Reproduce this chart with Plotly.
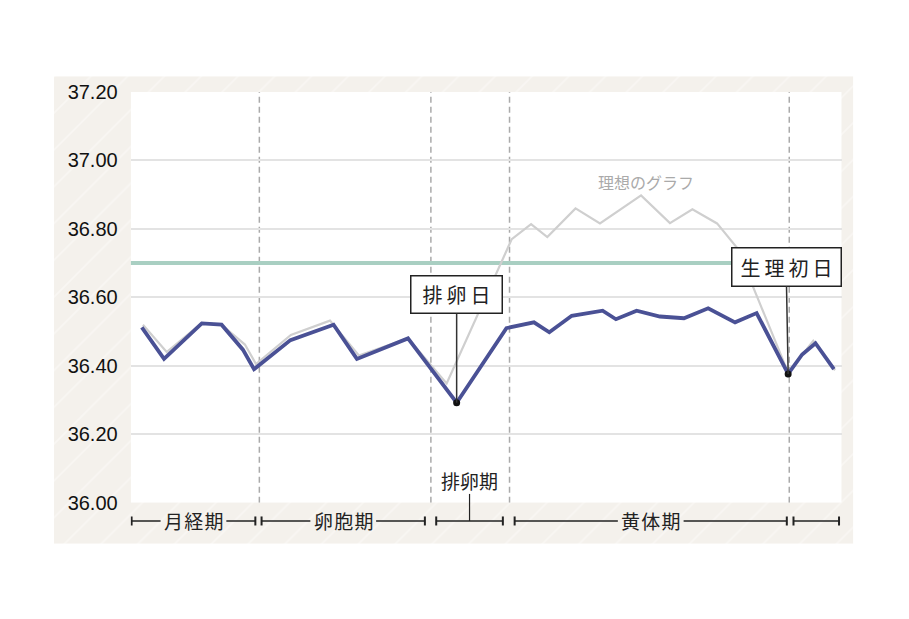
import plotly.graph_objects as go

# ---------------- data ----------------
BLUE_DAY = [0.50, 1.50, 3.20, 4.09, 5.05, 5.55, 7.19, 9.13, 10.18, 12.48, 14.67,
            16.91, 18.15, 18.84, 19.85, 21.24, 21.84, 22.77, 23.82, 24.90, 25.99,
            27.20, 28.17, 29.59, 30.22, 30.82, 31.65]
BLUE_TEMP = [36.512, 36.420, 36.524, 36.520, 36.447, 36.390, 36.475, 36.520, 36.420,
             36.480, 36.292, 36.510, 36.527, 36.498, 36.546, 36.561, 36.536, 36.561,
             36.544, 36.539, 36.568, 36.527, 36.554, 36.376, 36.433, 36.466, 36.390]

IDEAL_DAY = [0.55, 1.62, 3.20, 4.09, 5.14, 5.64, 7.21, 8.97, 10.27, 12.48, 14.22,
             17.15, 18.02, 18.75, 20.02, 21.12, 22.97, 24.27, 25.28, 26.39, 27.29,
             29.59, 30.72, 31.70]
IDEAL_TEMP = [36.520, 36.440, 36.525, 36.520, 36.462, 36.405, 36.490, 36.532, 36.430,
              36.480, 36.348, 36.770, 36.814, 36.776, 36.860, 36.816, 36.898, 36.817,
              36.857, 36.816, 36.745, 36.380, 36.473, 36.387]

THRESHOLD = 36.70
PHASE_DIVIDERS = [5.79, 13.51, 17.05, 29.64]
OVULATION_IDX = 10
PERIOD_IDX = 23

Y_TICKS = [36.0, 36.2, 36.4, 36.6, 36.8, 37.0, 37.2]
Y_TICK_TEXT = ["%.2f" % v for v in Y_TICKS]
X_RANGE = [0, 32]
Y_RANGE = [36.0, 37.2]

PHASE_NAMES = ["月\u200a経\u200a期", "卵\u200a胞\u200a期", "排卵期", "黄\u200a体\u200a期", ""]
PHASE_START = [0.04, 5.89, 13.75, 17.28, 29.83]
PHASE_END = [5.61, 13.24, 16.75, 29.53, 31.88]
LABEL_ABOVE = [False, False, True, False, False]

IDEAL_LABEL = "理想のグラフ"
IDEAL_LABEL_POS = (23.19, 36.936)
OVULATION_LABEL = "排\u2009卵\u2009日"
PERIOD_LABEL = "生\u2009理\u2009初\u2009日"

# ---------------- layout geometry (pixels of the target picture) ----------------
W, H = 909, 619
PL, PR, PT, PB = 130.7, 841.7, 91.7, 501.7      # white plot area
BL, BR, BT, BB = 54.0, 853.3, 76.0, 542.7       # beige hatched box
# the captured page is squeezed vertically; compensate so it lands on target pixels
VS, VOFF = 0.963, 10.8


def px_x(p):
    return p / W


def page_y(p):
    return (p - VOFF) / VS


def px_y(p):
    return 1 - page_y(p) / H


def dy(d):
    return d / VS


BEIGE = "#f4f1ec"
BLUE = "#4a5195"
GRAY = "#cfcfcf"
GREEN = "#a9cfc2"
INK = "#222222"
CJK = "Noto Sans CJK JP"

fig = go.Figure()

# hatched background box (own hidden axes)
fig.add_trace(go.Scatter(
    x=[0, 1, 1, 0, 0], y=[0, 0, 1, 1, 0], mode="lines", fill="toself",
    fillcolor=BEIGE, line=dict(width=0),
    fillpattern=dict(shape="/", bgcolor=BEIGE, fgcolor="#fdfcfa", size=26, solidity=0.07),
    hoverinfo="skip", showlegend=False, xaxis="x", yaxis="y"))

# threshold line
fig.add_trace(go.Scatter(
    x=X_RANGE, y=[THRESHOLD, THRESHOLD], mode="lines",
    line=dict(color=GREEN, width=4), hoverinfo="skip", showlegend=False,
    xaxis="x2", yaxis="y2"))

# ideal curve
fig.add_trace(go.Scatter(
    x=IDEAL_DAY, y=IDEAL_TEMP, mode="lines",
    line=dict(color=GRAY, width=2.2), showlegend=False, xaxis="x2", yaxis="y2"))

# measured curve
fig.add_trace(go.Scatter(
    x=BLUE_DAY, y=BLUE_TEMP, mode="lines",
    line=dict(color=BLUE, width=3.8), showlegend=False, xaxis="x2", yaxis="y2"))

# marked points
fig.add_trace(go.Scatter(
    x=[BLUE_DAY[OVULATION_IDX], BLUE_DAY[PERIOD_IDX]],
    y=[BLUE_TEMP[OVULATION_IDX], BLUE_TEMP[PERIOD_IDX]],
    mode="markers", marker=dict(color="#111111", size=7),
    showlegend=False, xaxis="x2", yaxis="y2"))

shapes = []
# white plot background (in main subplot's layer)
shapes.append(dict(type="rect", xref="x2", yref="y2", x0=X_RANGE[0], x1=X_RANGE[1],
                   y0=Y_RANGE[0], y1=Y_RANGE[1], fillcolor="white",
                   line=dict(width=0), layer="below"))
# dashed phase dividers
for d in PHASE_DIVIDERS:
    shapes.append(dict(type="line", xref="x2", yref="y2", x0=d, x1=d,
                       y0=Y_RANGE[0], y1=Y_RANGE[1],
                       line=dict(color="#aaaaaa", width=1.5, dash="6px,4px"), layer="below"))

# phase brackets under the plot
BR_Y = px_y(520)
TICK_T, TICK_B = px_y(515.5), px_y(524.5)
GAP = 1.48
annotations = []
for name, s, e, above in zip(PHASE_NAMES, PHASE_START, PHASE_END, LABEL_ABOVE):
    for xx in (s, e):
        shapes.append(dict(type="line", xref="x2", yref="paper", x0=xx, x1=xx,
                           y0=TICK_B, y1=TICK_T, line=dict(color=INK, width=2)))
    c = (s + e) / 2
    if name and not above:
        segs = [(s, c - GAP), (c + GAP, e)]
        annotations.append(dict(x=c, y=BR_Y, xref="x2", yref="paper", text=name,
                                showarrow=False, xanchor="center", yanchor="middle",
                                font=dict(family=CJK, size=19, color=INK)))
    else:
        segs = [(s, e)]
    for a, b in segs:
        shapes.append(dict(type="line", xref="x2", yref="paper", x0=a, x1=b,
                           y0=BR_Y, y1=BR_Y, line=dict(color=INK, width=1.5)))
    if name and above:
        shapes.append(dict(type="line", xref="x2", yref="paper", x0=c, x1=c,
                           y0=BR_Y, y1=px_y(493), line=dict(color=INK, width=1.2)))
        annotations.append(dict(x=c, y=px_y(480), xref="x2", yref="paper", text=name,
                                showarrow=False, xanchor="center", yanchor="middle",
                                font=dict(family=CJK, size=19, color=INK)))

# callouts
annotations.append(dict(
    x=BLUE_DAY[OVULATION_IDX], y=BLUE_TEMP[OVULATION_IDX], xref="x2", yref="y2",
    text=OVULATION_LABEL, showarrow=True, arrowhead=0, arrowwidth=1.5, arrowcolor="#333333",
    ax=0, ay=-dy(104), standoff=0, bgcolor="white", bordercolor=INK, borderwidth=1.5,
    borderpad=3, width=84, height=dy(29), font=dict(family=CJK, size=20, color=INK)))
annotations.append(dict(
    x=BLUE_DAY[PERIOD_IDX], y=BLUE_TEMP[PERIOD_IDX], xref="x2", yref="y2",
    text=PERIOD_LABEL, showarrow=True, arrowhead=0, arrowwidth=1.5, arrowcolor="#333333",
    ax=-2, ay=-dy(103), standoff=0, bgcolor="white", bordercolor=INK, borderwidth=1.5,
    borderpad=3, width=102, height=dy(30), font=dict(family=CJK, size=20, color=INK)))
annotations.append(dict(
    x=IDEAL_LABEL_POS[0], y=IDEAL_LABEL_POS[1], xref="x2", yref="y2", text=IDEAL_LABEL,
    showarrow=False, xanchor="center", yanchor="middle",
    font=dict(family=CJK, size=16, color="#aaaaaa")))

fig.update_layout(
    width=W, height=H, autosize=False,
    margin=dict(l=0, r=0, t=0, b=0),
    paper_bgcolor="white", plot_bgcolor="rgba(0,0,0,0)",
    showlegend=False,
    xaxis=dict(domain=[px_x(BL), px_x(BR)], range=[0, 1], visible=False, fixedrange=True),
    yaxis=dict(domain=[px_y(BB), px_y(BT)], range=[0, 1], visible=False, fixedrange=True),
    xaxis2=dict(domain=[px_x(PL), px_x(PR)], range=X_RANGE, anchor="y2",
                showticklabels=False, showgrid=False, zeroline=False, showline=False,
                ticks=""),
    yaxis2=dict(domain=[px_y(PB), px_y(PT)], range=Y_RANGE, anchor="x2",
                tickvals=Y_TICKS, ticktext=Y_TICK_TEXT, showgrid=True,
                gridcolor="#e3e3e3", gridwidth=1.5, zeroline=False, showline=False,
                ticks="", ticklabelstandoff=12,
                tickfont=dict(family="Liberation Sans, Arial, sans-serif", size=20,
                              color="#111111")),
    shapes=shapes,
    annotations=annotations,
)

fig.write_html(
    "out.html",
    config={"displayModeBar": False},
    post_script="document.body.style.margin='0px';document.body.style.overflow='hidden';",
)
